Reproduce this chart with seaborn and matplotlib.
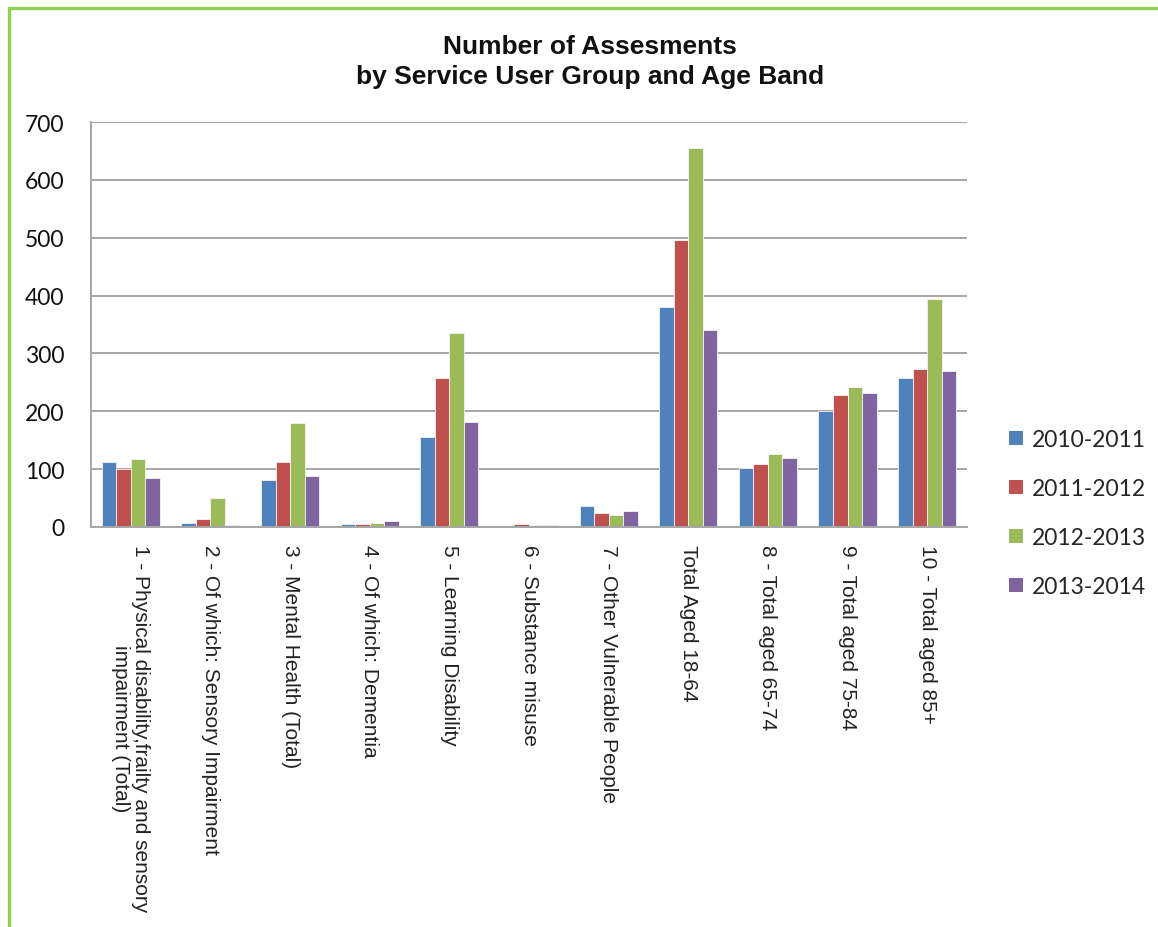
import matplotlib
matplotlib.use("Agg")
import matplotlib.pyplot as plt
from matplotlib.lines import Line2D
from matplotlib.ticker import FixedLocator
import numpy as np
import pandas as pd
import seaborn as sns

# Service user groups / age bands (x categories)
groups = [
    "1 - Physical disability,frailty and sensory\nimpairment (Total)",
    "2 - Of which: Sensory Impairment",
    "3 - Mental Health (Total)",
    "4 - Of which: Dementia",
    "5 - Learning Disability",
    "6 - Substance misuse",
    "7 - Other Vulnerable People",
    "Total Aged 18-64",
    "8 - Total aged 65-74",
    "9 - Total aged 75-84",
    "10 - Total aged 85+",
]

years = ["2010-2011", "2011-2012", "2012-2013", "2013-2014"]

# Number of assessments per year
v_2010_2011 = [112, 7, 81, 5, 156, 0, 36, 381, 102, 200, 258]
v_2011_2012 = [100, 14, 112, 5, 257, 5, 25, 496, 109, 229, 273]
v_2012_2013 = [118, 50, 180, 7, 335, 3, 21, 655, 127, 242, 394]
v_2013_2014 = [85, 3, 88, 10, 182, 3, 27, 341, 120, 231, 269]

colors = ["#4F81BD", "#C0504D", "#9BBB59", "#8064A2"]

series = [v_2010_2011, v_2011_2012, v_2012_2013, v_2013_2014]
df = pd.DataFrame(
    [(g, y, v) for y, vals in zip(years, series) for g, v in zip(groups, vals)],
    columns=["group", "year", "value"],
)

sns.set_theme(style="white")
plt.rcParams["font.family"] = ["Liberation Sans", "DejaVu Sans"]

fig = plt.figure(figsize=(11.58, 9.28), dpi=100)
ax = fig.add_axes([91 / 1158, 1 - 528 / 928, (967 - 91) / 1158, (528 - 123) / 928])

sns.barplot(
    data=df, x="group", y="value", hue="year", order=groups, hue_order=years,
    palette=colors, saturation=1, width=0.73, gap=0,
    edgecolor="#f4f4f4", linewidth=0.6, ax=ax, legend=True,
)

grid_col = "#a6a6a6"
ax.set_ylim(0, 700)
ax.set_xlim(-0.5, len(groups) - 0.5)
ax.set_yticks(np.arange(0, 701, 100))
ax.yaxis.grid(True, color=grid_col, linewidth=1.4)
ax.xaxis.grid(False)
ax.set_axisbelow(True)
ax.set_xlabel("")
ax.set_ylabel("")

for side in ["top", "right"]:
    ax.spines[side].set_visible(False)
for side in ["left", "bottom"]:
    ax.spines[side].set_color(grid_col)
    ax.spines[side].set_linewidth(1.4)

# Y tick labels
ax.tick_params(axis="y", which="major", length=9, width=1.2, color=grid_col,
               pad=10, labelsize=16.5, labelcolor="#111111")
for lbl in ax.get_yticklabels():
    lbl.set_fontfamily(["Lato", "DejaVu Sans"])

# Category labels: no tick at centre, small ticks at group boundaries
ax.tick_params(axis="x", which="major", length=0, pad=12)
ax.xaxis.set_minor_locator(FixedLocator(np.arange(-0.5, len(groups), 1.0)))
ax.tick_params(axis="x", which="minor", length=7, width=1.2, color=grid_col,
               direction="out")
ax.set_xticks(range(len(groups)))
ax.set_xticklabels(groups, rotation=270, ha="center", va="top",
                   fontsize=15, color="#222222", multialignment="center",
                   linespacing=1.05)

# Legend on the right
leg = ax.legend(
    loc="center left", bbox_to_anchor=(1009 / 1158, 1 - 514 / 928),
    bbox_transform=fig.transFigure, frameon=False,
    handlelength=0.6, handleheight=0.6, handletextpad=0.4,
    labelspacing=1.22, borderpad=0, borderaxespad=0,
    prop={"family": ["Lato", "DejaVu Sans"], "size": 16.5},
)
for h in leg.legend_handles:
    h.set_edgecolor("none")

# Title
fig.text(590 / 1158, 1 - 35 / 928,
         "Number of Assesments\nby Service User Group and Age Band",
         ha="center", va="top", fontsize=19, fontweight="bold",
         linespacing=1.3, color="#111111")

# Green chart frame (left and top edges)
frame_col = "#92D050"
fig.add_artist(Line2D([9 / 1158, 9 / 1158], [0, 1 - 9 / 928],
                      transform=fig.transFigure, color=frame_col, linewidth=2.4))
fig.add_artist(Line2D([9 / 1158, 1], [1 - 9 / 928, 1 - 9 / 928],
                      transform=fig.transFigure, color=frame_col, linewidth=2.4))

fig.savefig("out.png", dpi=100, facecolor="white")
